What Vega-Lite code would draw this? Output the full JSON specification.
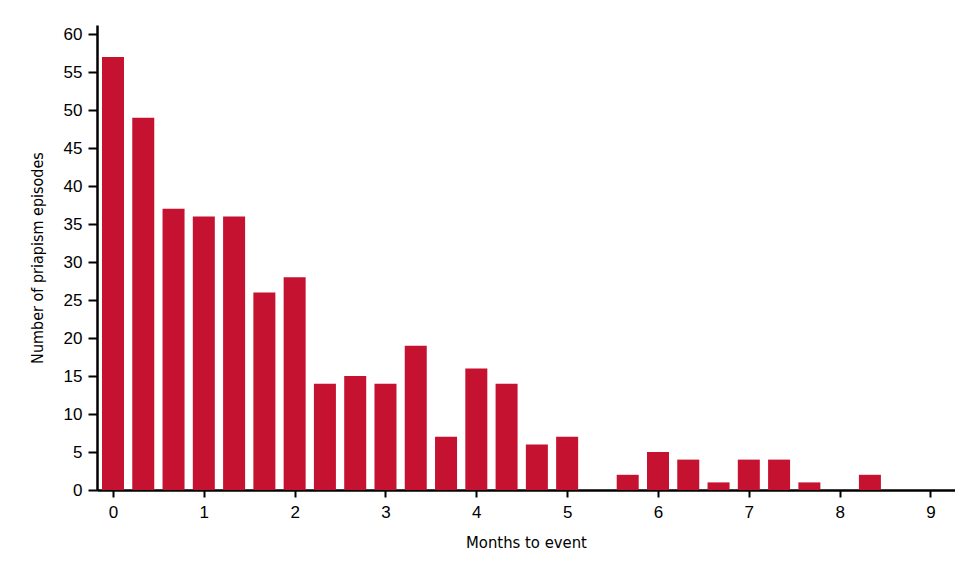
{
  "$schema": "https://vega.github.io/schema/vega-lite/v6.json",
  "width": 858,
  "height": 465,
  "autosize": {"type": "none"},
  "padding": {"left": 97, "top": 25, "right": 0, "bottom": 76},
  "background": "white",
  "config": {"view": {"stroke": null}},
  "data": {
    "values": [
      {"month": 0, "episodes": 57},
      {"month": 0.3333, "episodes": 49},
      {"month": 0.6667, "episodes": 37},
      {"month": 1, "episodes": 36},
      {"month": 1.3333, "episodes": 36},
      {"month": 1.6667, "episodes": 26},
      {"month": 2, "episodes": 28},
      {"month": 2.3333, "episodes": 14},
      {"month": 2.6667, "episodes": 15},
      {"month": 3, "episodes": 14},
      {"month": 3.3333, "episodes": 19},
      {"month": 3.6667, "episodes": 7},
      {"month": 4, "episodes": 16},
      {"month": 4.3333, "episodes": 14},
      {"month": 4.6667, "episodes": 6},
      {"month": 5, "episodes": 7},
      {"month": 5.3333, "episodes": 0},
      {"month": 5.6667, "episodes": 2},
      {"month": 6, "episodes": 5},
      {"month": 6.3333, "episodes": 4},
      {"month": 6.6667, "episodes": 1},
      {"month": 7, "episodes": 4},
      {"month": 7.3333, "episodes": 4},
      {"month": 7.6667, "episodes": 1},
      {"month": 8, "episodes": 0},
      {"month": 8.3333, "episodes": 2}
    ]
  },
  "mark": {"type": "bar", "size": 22, "color": "#C41230"},
  "encoding": {
    "x": {
      "field": "month",
      "type": "quantitative",
      "scale": {"domain": [-0.176, 9.27], "nice": false, "zero": false, "padding": 0},
      "axis": {
        "title": "Months to event",
        "values": [0, 1, 2, 3, 4, 5, 6, 7, 8, 9],
        "grid": false,
        "domainColor": "black",
        "domainWidth": 2.5,
        "tickColor": "black",
        "tickWidth": 2,
        "tickSize": 7,
        "labelFont": "Liberation Sans",
        "labelFontSize": 17,
        "labelColor": "black",
        "labelPadding": 7,
        "titleFont": "DejaVu Sans Condensed",
        "titleFontSize": 16.5,
        "titleFontWeight": "normal",
        "titleColor": "black",
        "titlePadding": 14
      }
    },
    "y": {
      "field": "episodes",
      "type": "quantitative",
      "scale": {"domain": [0, 61.2], "nice": false, "padding": 0},
      "axis": {
        "title": "Number of priapism episodes",
        "values": [0, 5, 10, 15, 20, 25, 30, 35, 40, 45, 50, 55, 60],
        "grid": false,
        "domainColor": "black",
        "domainWidth": 2.5,
        "tickColor": "black",
        "tickWidth": 2,
        "tickSize": 9,
        "labelFont": "Liberation Sans",
        "labelFontSize": 17,
        "labelColor": "black",
        "labelPadding": 6,
        "titleFont": "DejaVu Sans Condensed",
        "titleFontSize": 16,
        "titleFontWeight": "normal",
        "titleColor": "black",
        "titlePadding": 18
      }
    }
  }
}
